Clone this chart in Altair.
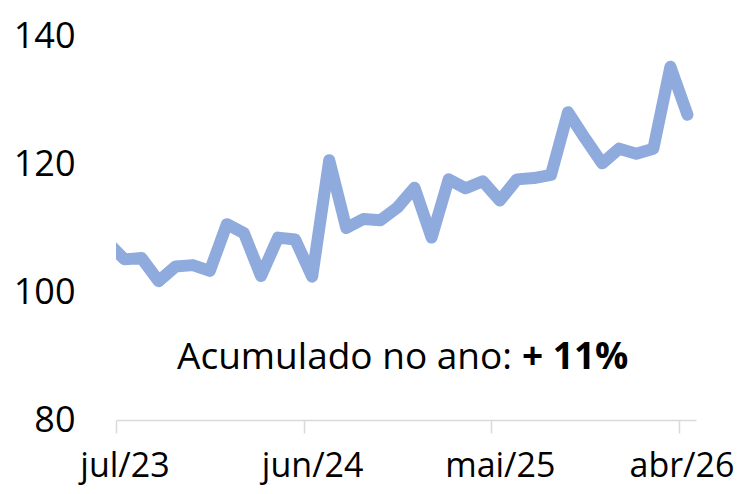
import altair as alt
import pandas as pd

# Monthly index (first point jun/23 lies just left of the axis and is clipped)
months = [
    "jun/23", "jul/23", "ago/23", "set/23", "out/23", "nov/23", "dez/23",
    "jan/24", "fev/24", "mar/24", "abr/24", "mai/24", "jun/24", "jul/24",
    "ago/24", "set/24", "out/24", "nov/24", "dez/24",
    "jan/25", "fev/25", "mar/25", "abr/25", "mai/25", "jun/25", "jul/25",
    "ago/25", "set/25", "out/25", "nov/25", "dez/25",
    "jan/26", "fev/26", "mar/26", "abr/26",
]
values = [
    107.8, 105.1, 105.3, 101.7, 104.0, 104.2, 103.3,
    110.6, 109.2, 102.5, 108.5, 108.2, 102.4, 120.6,
    110.0, 111.4, 111.2, 113.2, 116.3,
    108.5, 117.6, 116.2, 117.3, 114.3, 117.6, 117.8,
    118.3, 128.1, 124.0, 120.1, 122.4,
    121.6, 122.4, 135.2, 127.7,
]
tick_labels = ["jul/23", "jun/24", "mai/25", "abr/26"]
y_ticks = [80, 100, 120, 140]
annotation_text = "Acumulado no ano:"
annotation_value = "+ 11%"

df = pd.DataFrame({
    "idx": list(range(-1, len(months) - 1)),
    "mes": months,
    "valor": values,
})

label_positions = [months.index(m) - 1 for m in tick_labels]
label_array = "[" + ",".join("'" + m + "'" for m in months) + "]"
last_pos = label_positions[-1]

W, H = 580, 384
n_cat = 34
half = W / n_cat / 2

FONT = "Open Sans"

x_enc = alt.X(
    "idx:Q",
    scale=alt.Scale(domain=[-0.5, n_cat - 0.5], nice=False, zero=False),
    axis=alt.Axis(
        values=label_positions,
        labelExpr=label_array + "[datum.value + 1]",
        title=None,
        grid=False,
        domainColor="#D9D9D9",
        domainWidth=1.5,
        tickColor="#D9D9D9",
        tickWidth=1.5,
        tickSize=13,
        tickOffset=-half,
        labelOffset={"expr": f"datum.value == {last_pos} ? {half - 6:.2f} : {half:.2f}"},
        labelFont=FONT,
        labelFontSize=34,
        labelColor="#000000",
        labelBaseline="alphabetic",
        labelPadding=43,
        labelFlush=False,
        labelOverlap=False,
    ),
)
y_enc = alt.Y(
    "valor:Q",
    scale=alt.Scale(domain=[80, 140], nice=False, zero=False),
    axis=alt.Axis(
        values=y_ticks,
        title=None,
        grid=False,
        domain=False,
        ticks=False,
        labelFont=FONT,
        labelFontSize=36,
        labelColor="#000000",
        labelPadding=41,
        labelBaseline="middle",
    ),
)

line = alt.Chart(df).mark_line(
    color="#8FAADC",
    strokeWidth=12,
    strokeCap="round",
    strokeJoin="round",
    clip=True,
).encode(x=x_enc, y=y_enc)

ann_df = pd.DataFrame({"a": [annotation_text], "b": [annotation_value]})

ann1 = alt.Chart(ann_df).mark_text(
    font=FONT, fontSize=37, color="#000000", align="right", baseline="alphabetic"
).encode(text="a:N", x=alt.value(396), y=alt.value(333))

ann2 = alt.Chart(ann_df).mark_text(
    font=FONT, fontSize=37, fontWeight="bold", color="#000000",
    align="left", baseline="alphabetic"
).encode(text="b:N", x=alt.value(406), y=alt.value(333))

chart = (line + ann1 + ann2).properties(
    width=W,
    height=H,
    autosize=alt.AutoSizeParams(type="none"),
    padding={"left": 108, "top": 28, "right": 42, "bottom": 66},
    background="white",
).configure_view(stroke=None)

chart.save("out.html", embed_options={"renderer": "svg", "actions": False})
